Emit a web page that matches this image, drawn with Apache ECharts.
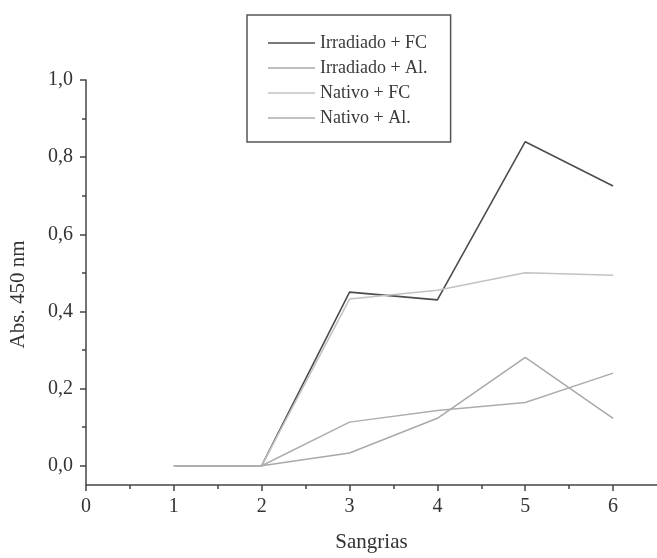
<!DOCTYPE html>
<html>
<head>
<meta charset="utf-8">
<script src="https://cdn.jsdelivr.net/npm/echarts@6/dist/echarts.min.js"></script>
<style>
  html, body { margin: 0; padding: 0; background: #fff; }
  #chart { width: 657px; height: 558px; }
</style>
</head>
<body>
<div id="chart"></div>
<script>
// valores
const sangrias = [1, 2, 3, 4, 5, 6];
const irradiadoFC = [0, 0, 0.45, 0.43, 0.84, 0.725];
const irradiadoAl = [0, 0, 0.033, 0.123, 0.281, 0.123];
const nativoFC = [0, 0, 0.432, 0.455, 0.5, 0.494];
const nativoAl = [0, 0, 0.113, 0.143, 0.164, 0.24];

const xTicks = [0, 1, 2, 3, 4, 5, 6];
const xMinorTicks = [0.5, 1.5, 2.5, 3.5, 4.5, 5.5];
const yTicks = [0, 0.2, 0.4, 0.6, 0.8, 1.0];
const yMinorTicks = [0.1, 0.3, 0.5, 0.7, 0.9];

const serif = 'Liberation Serif';
const axisColor = '#444';

function pairs(values) {
    return sangrias.map((x, i) => [x, values[i]]);
}

function line(name, values, color, width) {
    return {
        name: name,
        type: 'line',
        symbol: 'none',
        data: pairs(values),
        lineStyle: { color: color, width: width },
        itemStyle: { color: color }
    };
}

const chart = echarts.init(document.getElementById('chart'));
chart.setOption({
    backgroundColor: '#fff',
    animation: false,
    legend: {
        orient: 'vertical',
        left: 247,
        top: 15,
        padding: [19, 23, 15, 21],
        icon: 'rect',
        itemWidth: 47,
        itemHeight: 1.5,
        itemGap: 7,
        borderColor: '#555',
        borderWidth: 1.5,
        textStyle: { fontFamily: serif, fontSize: 18, lineHeight: 18, color: '#3a3a3a' },
        data: ['Irradiado + FC', 'Irradiado + Al.', 'Nativo + FC', 'Nativo + Al.']
    },
    grid: { left: 86, right: -6, top: 80, bottom: 67 },
    xAxis: [{
        type: 'value',
        min: 0,
        max: 6.5,
        name: 'Sangrias',
        nameLocation: 'middle',
        nameGap: 47,
        nameTextStyle: { fontFamily: serif, fontSize: 21, color: '#333' },
        axisLine: { onZero: false, lineStyle: { color: axisColor, width: 1.5 } },
        axisTick: { show: true, length: 6, customValues: xTicks, lineStyle: { color: axisColor, width: 1.5 } },
        axisLabel: { customValues: xTicks, margin: 12, fontFamily: serif, fontSize: 20, color: '#333' },
        splitLine: { show: false }
    }, {
        type: 'value',
        min: 0,
        max: 6.5,
        position: 'bottom',
        axisLine: { show: false, onZero: false },
        axisTick: { show: true, length: 4, customValues: xMinorTicks, lineStyle: { color: axisColor, width: 1.5 } },
        axisLabel: { show: false },
        splitLine: { show: false }
    }],
    yAxis: [{
        type: 'value',
        min: -0.05,
        max: 1.0,
        name: 'Abs. 450 nm',
        nameLocation: 'middle',
        nameGap: 57,
        nameTextStyle: { fontFamily: serif, fontSize: 21, color: '#333', padding: [0, 24, 0, 0] },
        axisLine: { show: true, onZero: false, lineStyle: { color: axisColor, width: 1.5 } },
        axisTick: { show: true, length: 6, customValues: yTicks, lineStyle: { color: axisColor, width: 1.5 } },
        axisLabel: {
            customValues: yTicks,
            margin: 13,
            fontFamily: serif,
            fontSize: 20,
            color: '#333',
            padding: [0, 0, 8, 0],
            formatter: v => v.toFixed(1).replace('.', ',')
        },
        splitLine: { show: false }
    }, {
        type: 'value',
        min: -0.05,
        max: 1.0,
        position: 'left',
        axisLine: { show: false, onZero: false },
        axisTick: { show: true, length: 4, customValues: yMinorTicks, lineStyle: { color: axisColor, width: 1.5 } },
        axisLabel: { show: false },
        splitLine: { show: false }
    }],
    series: [
        line('Irradiado + FC', irradiadoFC, '#4d4d4d', 1.6),
        line('Irradiado + Al.', irradiadoAl, '#a9a9a9', 1.5),
        line('Nativo + FC', nativoFC, '#c2c2c2', 1.5),
        line('Nativo + Al.', nativoAl, '#adadad', 1.5)
    ]
});
</script>
</body>
</html>
